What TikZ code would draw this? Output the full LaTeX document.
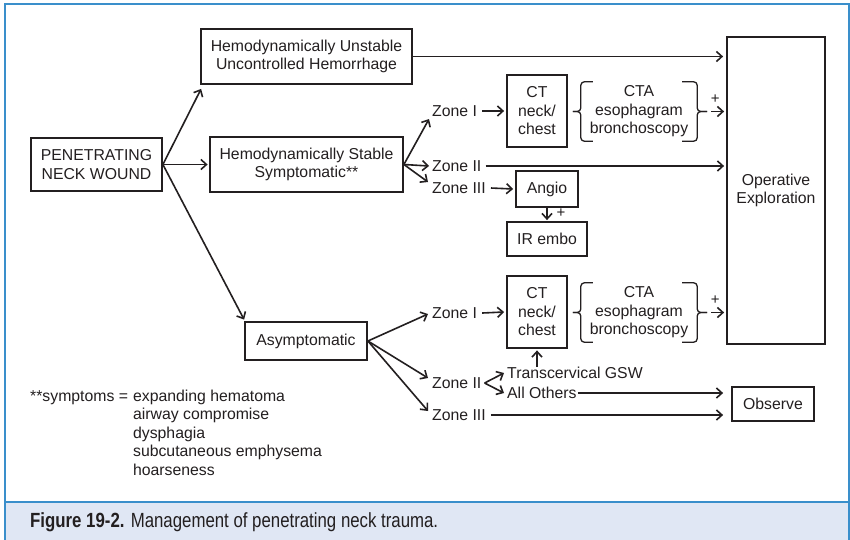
\documentclass[tikz,border=0pt]{standalone}
\usepackage{fontspec}
\setmainfont{Liberation Sans}
\usetikzlibrary{arrows.meta,calc}
\definecolor{ink}{HTML}{231F20}
\definecolor{frameblue}{HTML}{3A8FCB}
\definecolor{capfill}{HTML}{E0E7F4}
\begin{document}
\begin{tikzpicture}[x=1pt,y=-1pt,
  every node/.style={text=ink},
  txt/.style={font=\fontsize{15.8}{18.5}\selectfont, inner sep=0pt},
  box/.style={draw=ink, line width=1.8pt, align=center, font=\fontsize{15.8}{18.5}\selectfont, inner sep=0pt},
  arr/.style={draw=ink, line width=1.6pt, -{Straight Barb[length=5.5pt,width=10pt]}},
  brace/.style={draw=ink, line width=1.3pt, rounded corners=3.5pt},
  plus/.style={font=\fontsize{15}{15}\selectfont, inner sep=0pt}
]
\useasboundingbox (0,0) rectangle (850,539);
\fill[white] (0,0) rectangle (850,539);
\fill[capfill] (5,502) rectangle (849,545);
\draw[frameblue, line width=2pt] (5,545) -- (5,4) -- (849,4) -- (849,545);
\draw[frameblue, line width=2pt] (5,502) -- (849,502);

% boxes
\node[box, minimum width=131pt, minimum height=53pt] (pnw) at (96.5,164.5) {PENETRATING\\NECK WOUND};
\node[box, minimum width=211pt, minimum height=55pt] (unst) at (306.5,56.5) {Hemodynamically Unstable\\Uncontrolled Hemorrhage};
\node[box, minimum width=193pt, minimum height=55pt] (stab) at (306.5,164.5) {Hemodynamically Stable\\Symptomatic**};
\node[box, minimum width=98pt, minimum height=307pt] (op) at (776,190.5) {Operative\\Exploration};
\node[box, minimum width=60pt, minimum height=72pt] (ct1) at (537,111) {CT\\neck/\\chest};
\node[txt, align=center, minimum width=116pt, minimum height=59pt] (cta1) at (639,111.5) {CTA\\esophagram\\bronchoscopy};
\node[box, minimum width=62pt, minimum height=36pt] (angio) at (547,189) {Angio};
\node[box, minimum width=80pt, minimum height=34pt] (ir) at (547,239) {IR embo};
\node[box, minimum width=122pt, minimum height=38pt] (asym) at (306,341) {Asymptomatic};
\node[box, minimum width=60pt, minimum height=72pt] (ct2) at (537,312) {CT\\neck/\\chest};
\node[txt, align=center, minimum width=116pt, minimum height=59pt] (cta2) at (639,312.5) {CTA\\esophagram\\bronchoscopy};
\node[box, minimum width=82pt, minimum height=34pt] (obs) at (773,404) {Observe};

% zone labels
\node[txt, anchor=west] (z1a) at (432,111) {Zone I};
\node[txt, anchor=west] (z2a) at (432,166) {Zone II};
\node[txt, anchor=west] (z3a) at (432,188) {Zone III};
\node[txt, anchor=west] (z1b) at (432,313) {Zone I};
\node[txt, anchor=west] (z2b) at (432,383) {Zone II};
\node[txt, anchor=west] (z3b) at (432,415) {Zone III};
\node[txt, anchor=west] (tgsw) at (507,373) {Transcervical GSW};
\node[txt, anchor=west] (allo) at (507,393) {All Others};

% symptoms
\node[txt, anchor=base west] (sym) at (30,401) {\begin{tabular}[t]{@{}l@{\hspace{5pt}}l@{}}**symptoms = & expanding hematoma\\ & airway compromise\\ & dysphagia\\ & subcutaneous emphysema\\ & hoarseness\end{tabular}};

% caption
\node[anchor=base west, inner sep=0pt] (cap) at (30,527.5) {\scalebox{0.82}[1]{\fontsize{20.5}{22}\selectfont\textbf{Figure 19-2.} Management of penetrating neck trauma.}};

% main arrows
\draw[arr] (pnw.east) -- ($(unst.south west)+(1,4)$);
\draw[arr] (pnw.east) -- ($(stab.west)+(-1.5,0)$);
\draw[arr] (pnw.east) -- ($(asym.north west)+(0,-1.5)$);
\draw[arr] (unst.east) -- ($(unst.east -| op.west)+(-3,0)$);

% stable branch
\draw[arr] (stab.east) -- ($(z1a.west)+(-3,8)$);
\draw[arr] (stab.east) -- ($(z2a.west)+(-3,0)$);
\draw[arr] (stab.east) -- ($(z3a.west)+(-4,-6)$);
\draw[arr] ($(z1a.east)+(5,0)$) -- ($(ct1.west)+(-2,0)$);
\draw[arr] ($(z2a.east)+(4,0)$) -- ($(z2a.east -| op.west)+(-2,0)$);
\draw[arr] ($(z3a.east)+(5,0)$) -- ($(angio.west)+(-2,0)$);
\draw[arr] (angio.south) -- ($(ir.north)+(0,-1)$);
\node[plus] (p3) at (561,213) {+};

% braces upper
\draw[brace] ($(cta1.north west)+(12,0)$) -- (cta1.north west) -- (cta1.west) -- ($(cta1.west)+(-8,0)$);
\draw[brace] ($(cta1.south west)+(12,0)$) -- (cta1.south west) -- (cta1.west) -- ($(cta1.west)+(-8,0)$);
\draw[brace] ($(cta1.north east)+(-15,0)$) -- (cta1.north east) -- (cta1.east) -- ($(cta1.east)+(10,0)$);
\draw[brace] ($(cta1.south east)+(-15,0)$) -- (cta1.south east) -- (cta1.east) -- ($(cta1.east)+(10,0)$);
\coordinate (b1) at ($(cta1.east)+(14,0)$);
\draw[arr] (b1) -- ($(b1 -| op.west)+(-2,0)$);
\node[plus] (p1) at ($(b1)+(4,-12)$) {+};

% asymptomatic branch
\draw[arr] (asym.east) -- ($(z1b.west)+(-4,1)$);
\draw[arr] (asym.east) -- ($(z2b.west)+(-4,-5)$);
\draw[arr] (asym.east) -- ($(z3b.west)+(-4,-4)$);
\draw[arr] ($(z1b.east)+(5,0)$) -- ($(ct2.west)+(-2,0)$);

% braces lower
\draw[brace] ($(cta2.north west)+(12,0)$) -- (cta2.north west) -- (cta2.west) -- ($(cta2.west)+(-8,0)$);
\draw[brace] ($(cta2.south west)+(12,0)$) -- (cta2.south west) -- (cta2.west) -- ($(cta2.west)+(-8,0)$);
\draw[brace] ($(cta2.north east)+(-15,0)$) -- (cta2.north east) -- (cta2.east) -- ($(cta2.east)+(10,0)$);
\draw[brace] ($(cta2.south east)+(-15,0)$) -- (cta2.south east) -- (cta2.east) -- ($(cta2.east)+(10,0)$);
\coordinate (b2) at ($(cta2.east)+(14,0)$);
\draw[arr] (b2) -- ($(b2 -| op.west)+(-2,0)$);
\node[plus] (p2) at ($(b2)+(4,-12)$) {+};

% zone II fork
\draw[arr] ($(z2b.east)+(3,0)$) -- ($(tgsw.west)+(-3,0)$);
\draw[arr] ($(z2b.east)+(3,0)$) -- ($(allo.west)+(-3,0)$);
\draw[arr] (ct2.south |- tgsw.north) -- ($(ct2.south)+(0,1.5)$);
\draw[arr] ($(allo.east)+(1,0)$) -- ($(allo.east -| obs.west)+(-8,0)$);
\draw[arr] ($(z3b.east)+(5,0)$) -- ($(z3b.east -| obs.west)+(-8,0)$);
\end{tikzpicture}
\end{document}
